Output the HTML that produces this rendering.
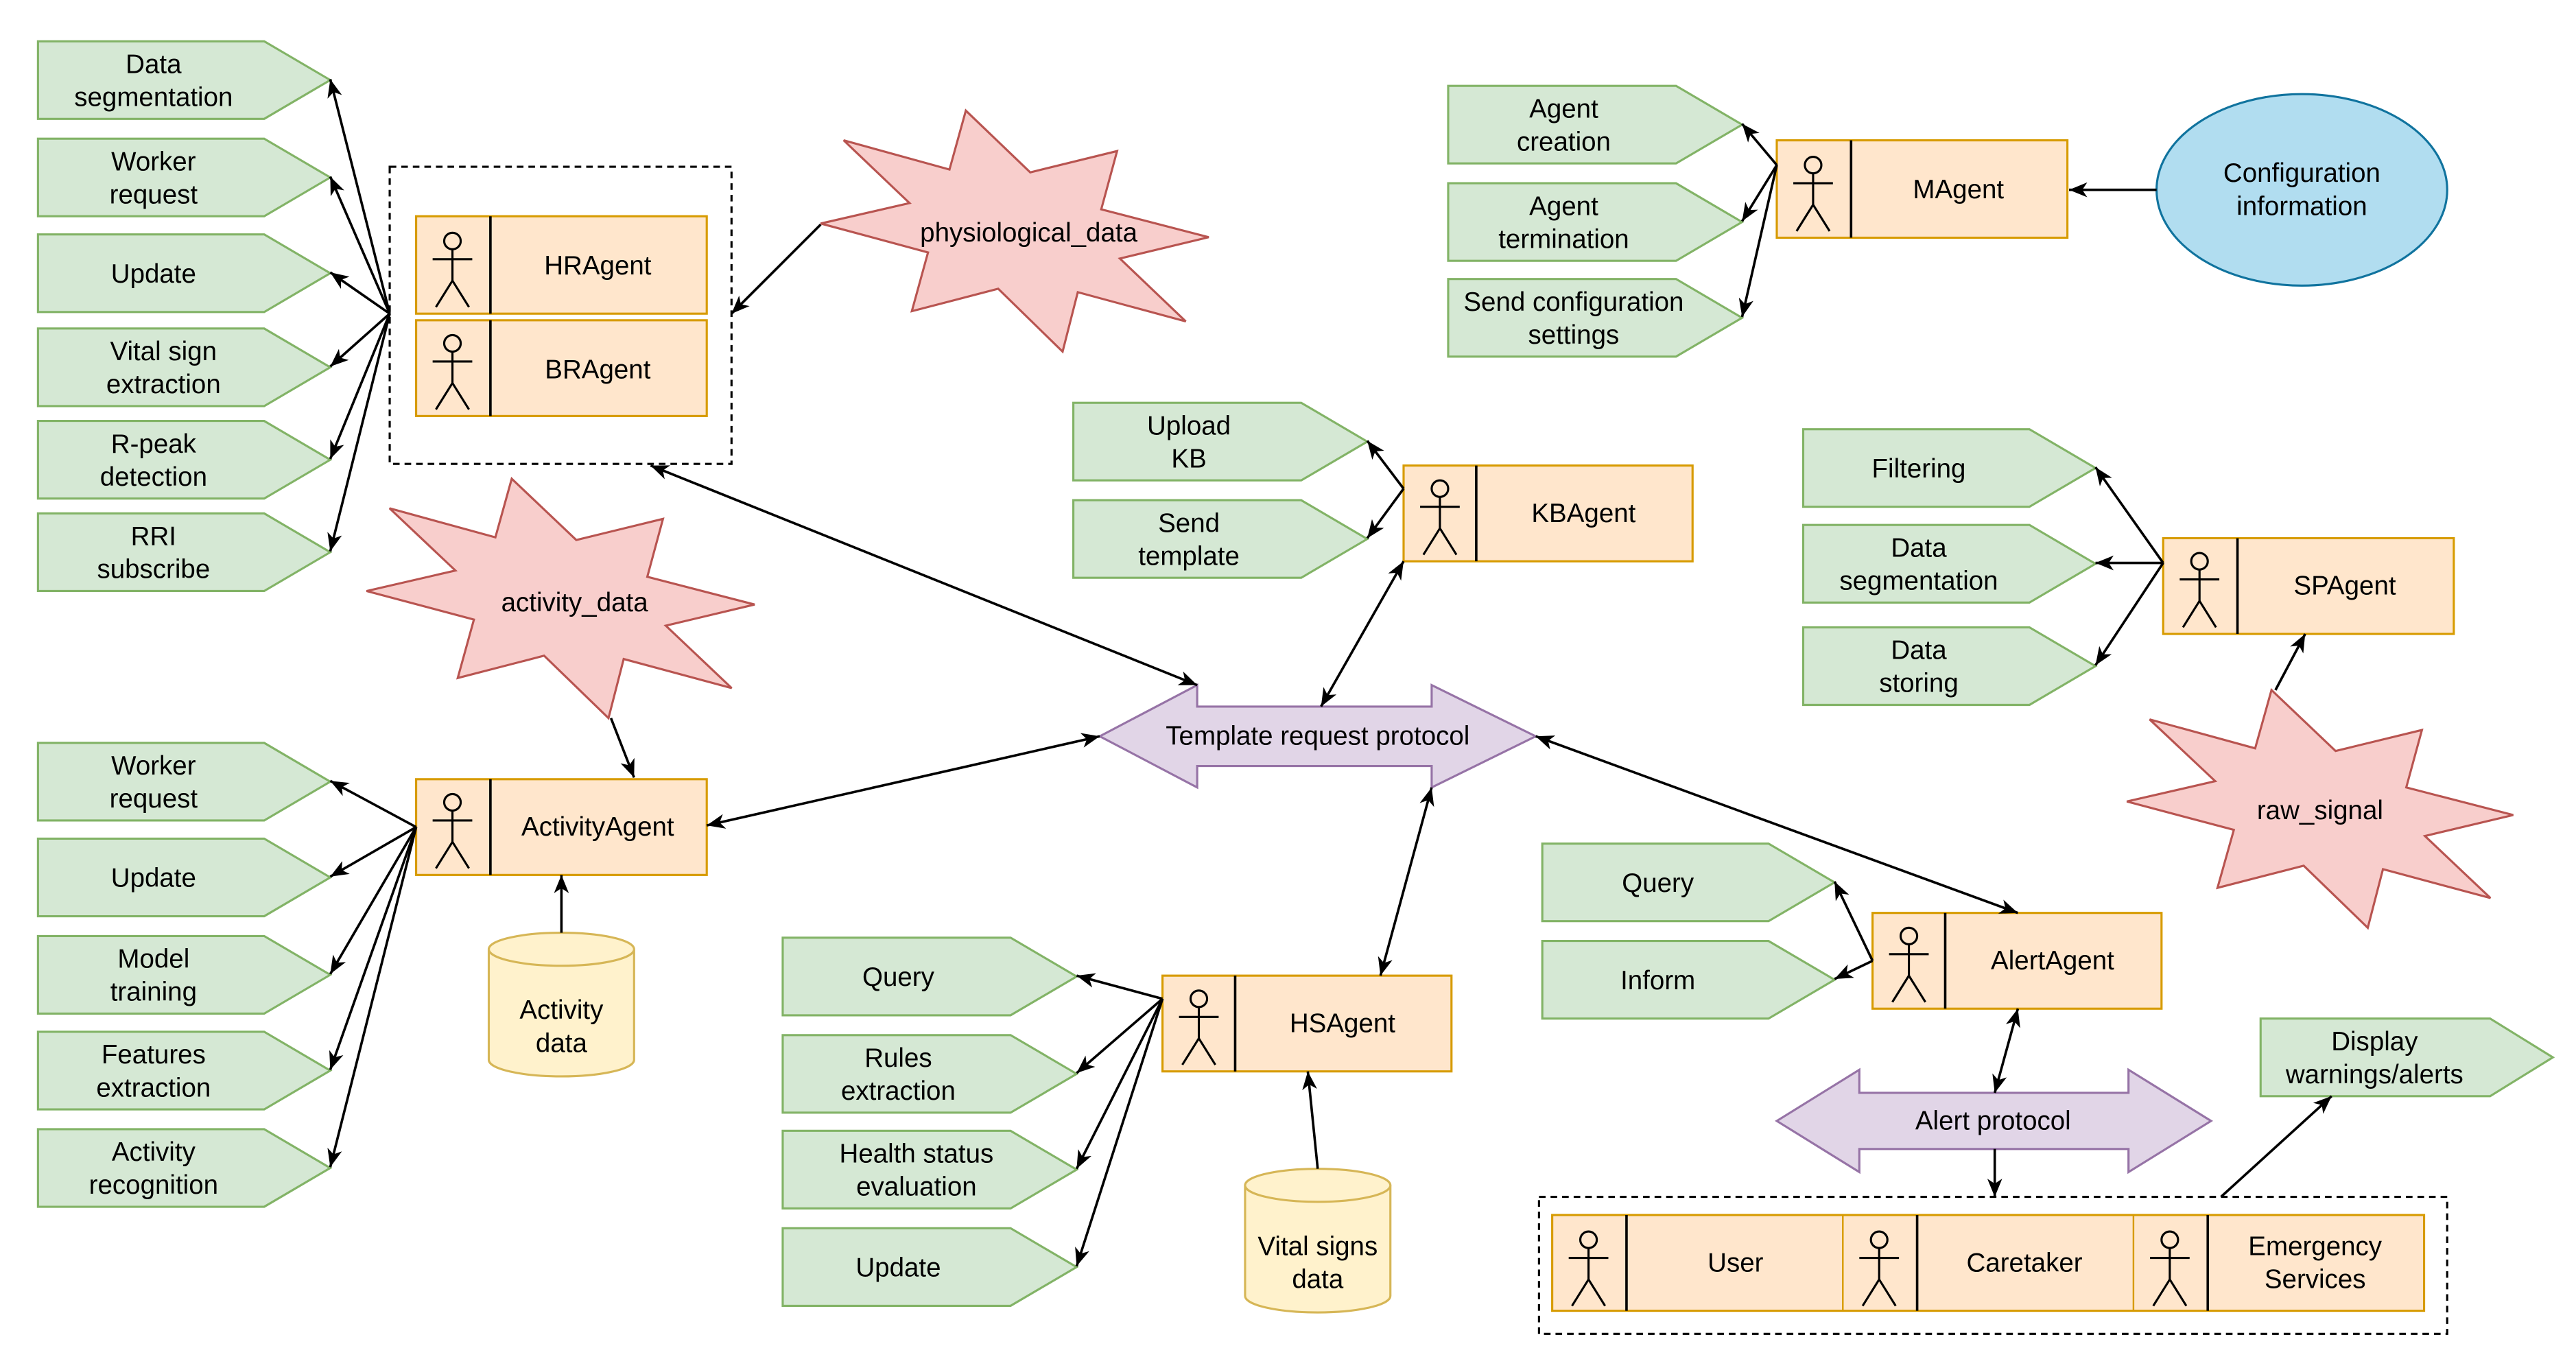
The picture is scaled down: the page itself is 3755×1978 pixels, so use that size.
<!DOCTYPE html>
<html><head><meta charset="utf-8">
<style>
html,body{margin:0;padding:0;background:#fff;}
svg{display:block;}
text{font-family:"Liberation Sans",Arial,sans-serif;font-size:16px;fill:#000;text-anchor:middle;dominant-baseline:central;}
.g{fill:#d5e8d4;stroke:#82b366;stroke-width:1.3;}
.o{fill:#ffe6cc;stroke:#d79b00;stroke-width:1.3;}
.r{fill:#f8cecc;stroke:#b85450;stroke-width:1.3;}
.p{fill:#e1d5e7;stroke:#9673a6;stroke-width:1.3;}
.y{fill:#fff2cc;stroke:#d6b656;stroke-width:1.3;}
.b{fill:#b1ddf0;stroke:#10739e;stroke-width:1.3;}
.l{stroke:#000;stroke-width:1.5;fill:none;}
.d{stroke:#000;stroke-width:1.3;fill:none;stroke-dasharray:4,3;}
.a{stroke:#000;stroke-width:1.3;fill:none;}
</style></head><body>
<svg width="3755" height="1978" viewBox="0 0 1560 822" preserveAspectRatio="none" xmlns="http://www.w3.org/2000/svg">
<defs>
<marker id="m" markerUnits="userSpaceOnUse" markerWidth="12" markerHeight="10" refX="11" refY="4.5" orient="auto-start-reverse" viewBox="0 0 12 9">
<path d="M0,0 L11,4.5 L0,9 L3,4.5 z" fill="#000"/>
</marker>
<g id="act">
<circle cx="22" cy="13" r="5" class="a" fill="#fff"/>
<line x1="22" y1="18" x2="22" y2="37" class="a"/>
<line x1="10" y1="24" x2="34" y2="24" class="a"/>
<line x1="22" y1="37" x2="12" y2="53" class="a"/>
<line x1="22" y1="37" x2="32" y2="53" class="a"/>
</g>
</defs>

<!-- Left top green group -->
<polygon class="g" points="23,25 160,25 200,48.5 160,72 23,72"/><text x="93" y="39">Data</text><text x="93" y="59">segmentation</text>
<polygon class="g" points="23,84 160,84 200,107.5 160,131 23,131"/><text x="93" y="98">Worker</text><text x="93" y="118">request</text>
<polygon class="g" points="23,142 160,142 200,165.5 160,189 23,189"/><text x="93" y="166">Update</text>
<polygon class="g" points="23,199 160,199 200,222.5 160,246 23,246"/><text x="99" y="213">Vital sign</text><text x="99" y="233">extraction</text>
<polygon class="g" points="23,255 160,255 200,278.5 160,302 23,302"/><text x="93" y="269">R-peak</text><text x="93" y="289">detection</text>
<polygon class="g" points="23,311 160,311 200,334.5 160,358 23,358"/><text x="93" y="325">RRI</text><text x="93" y="345">subscribe</text>

<rect class="d" x="236" y="101" width="207" height="180"/>
<rect class="o" x="252" y="131" width="176" height="59"/><line x1="297" y1="131" x2="297" y2="190" class="l"/><use href="#act" x="252" y="133"/><text x="362" y="161">HRAgent</text>
<rect class="o" x="252" y="194" width="176" height="58"/><line x1="297" y1="194" x2="297" y2="252" class="l"/><use href="#act" x="252" y="195"/><text x="362" y="224">BRAgent</text>

<line class="l" x1="236" y1="190" x2="200" y2="48" marker-end="url(#m)"/>
<line class="l" x1="236" y1="190" x2="200" y2="107" marker-end="url(#m)"/>
<line class="l" x1="236" y1="190" x2="200" y2="165" marker-end="url(#m)"/>
<line class="l" x1="236" y1="190" x2="200" y2="222" marker-end="url(#m)"/>
<line class="l" x1="236" y1="190" x2="200" y2="278" marker-end="url(#m)"/>
<line class="l" x1="236" y1="190" x2="200" y2="334" marker-end="url(#m)"/>

<!-- physiological star -->
<polygon class="r" points="497,135.4 550.8,123 510.9,85 575,102.7 584.9,67 623.9,104.4 676.5,91.5 666.9,126.8 732,143.7 678.2,156.6 718.1,194.7 652.7,177 643.5,213 604.5,174.9 552.2,188.5 562,152.9"/>
<text x="623" y="141">physiological_data</text>
<line class="l" x1="497" y1="136" x2="443" y2="190" marker-end="url(#m)"/>

<!-- activity star -->
<polygon class="r" points="222,358 275.8,345.6 235.9,307.9 300,325.5 309.9,290 349,327.1 401.5,314.3 392,349.4 457,366.2 403.2,379 443.1,416.8 377.7,399.2 368.5,435 329.5,397.2 277.2,410.7 287,375.3"/>
<text x="348" y="365">activity_data</text>
<line class="l" x1="370" y1="435" x2="384" y2="471" marker-end="url(#m)"/>

<!-- ActivityAgent -->
<rect class="o" x="252" y="472" width="176" height="58"/><line x1="297" y1="472" x2="297" y2="530" class="l"/><use href="#act" x="252" y="473"/><text x="362" y="501">ActivityAgent</text>
<polygon class="g" points="23,450 160,450 200,473.5 160,497 23,497"/><text x="93" y="464">Worker</text><text x="93" y="484">request</text>
<polygon class="g" points="23,508 160,508 200,531.5 160,555 23,555"/><text x="93" y="532">Update</text>
<polygon class="g" points="23,567 160,567 200,590.5 160,614 23,614"/><text x="93" y="581">Model</text><text x="93" y="601">training</text>
<polygon class="g" points="23,625 160,625 200,648.5 160,672 23,672"/><text x="93" y="639">Features</text><text x="93" y="659">extraction</text>
<polygon class="g" points="23,684 160,684 200,707.5 160,731 23,731"/><text x="93" y="698">Activity</text><text x="93" y="718">recognition</text>
<line class="l" x1="252" y1="501" x2="200" y2="473" marker-end="url(#m)"/>
<line class="l" x1="252" y1="501" x2="200" y2="531" marker-end="url(#m)"/>
<line class="l" x1="252" y1="501" x2="200" y2="590" marker-end="url(#m)"/>
<line class="l" x1="252" y1="501" x2="200" y2="648" marker-end="url(#m)"/>
<line class="l" x1="252" y1="501" x2="200" y2="707" marker-end="url(#m)"/>

<!-- Activity data cylinder -->
<path class="y" d="M296,575 A44,10 0 0 1 384,575 L384,642 A44,10 0 0 1 296,642 Z"/>
<path class="y" d="M296,575 A44,10 0 0 0 384,575" fill="none"/>
<text x="340" y="612">Activity</text><text x="340" y="632">data</text>
<line class="l" x1="340" y1="565" x2="340" y2="530" marker-end="url(#m)"/>

<!-- Template request protocol -->
<polygon class="p" points="666,446 725,415 725,428 867,428 867,415 930,446 867,477 867,464 725,464 725,477"/>
<text x="798" y="446">Template request protocol</text>

<!-- MAgent -->
<rect class="o" x="1076" y="85" width="176" height="59"/><line x1="1121" y1="85" x2="1121" y2="144" class="l"/><use href="#act" x="1076" y="87"/><text x="1186" y="115">MAgent</text>
<polygon class="g" points="877,52 1015,52 1055,75.5 1015,99 877,99"/><text x="947" y="66">Agent</text><text x="947" y="86">creation</text>
<polygon class="g" points="877,111 1015,111 1055,134.5 1015,158 877,158"/><text x="947" y="125">Agent</text><text x="947" y="145">termination</text>
<polygon class="g" points="877,169 1015,169 1055,192.5 1015,216 877,216"/><text x="953" y="183">Send configuration</text><text x="953" y="203">settings</text>
<line class="l" x1="1076" y1="100" x2="1055" y2="75" marker-end="url(#m)"/>
<line class="l" x1="1076" y1="100" x2="1055" y2="134" marker-end="url(#m)"/>
<line class="l" x1="1076" y1="100" x2="1055" y2="192" marker-end="url(#m)"/>
<ellipse class="b" cx="1394" cy="115" rx="88" ry="58"/>
<text x="1394" y="105">Configuration</text><text x="1394" y="125">information</text>
<line class="l" x1="1306" y1="115" x2="1253" y2="115" marker-end="url(#m)"/>

<!-- KBAgent -->
<rect class="o" x="850" y="282" width="175" height="58"/><line x1="894" y1="282" x2="894" y2="340" class="l"/><use href="#act" x="850" y="283"/><text x="959" y="311">KBAgent</text>
<polygon class="g" points="650,244 788,244 828,267.5 788,291 650,291"/><text x="720" y="258">Upload</text><text x="720" y="278">KB</text>
<polygon class="g" points="650,303 788,303 828,326.5 788,350 650,350"/><text x="720" y="317">Send</text><text x="720" y="337">template</text>
<line class="l" x1="850" y1="296" x2="828" y2="267" marker-end="url(#m)"/>
<line class="l" x1="850" y1="296" x2="828" y2="326" marker-end="url(#m)"/>

<!-- SPAgent -->
<rect class="o" x="1310" y="326" width="176" height="58"/><line x1="1355" y1="326" x2="1355" y2="384" class="l"/><use href="#act" x="1310" y="327"/><text x="1420" y="355">SPAgent</text>
<polygon class="g" points="1092,260 1229,260 1269,283.5 1229,307 1092,307"/><text x="1162" y="284">Filtering</text>
<polygon class="g" points="1092,318 1229,318 1269,341.5 1229,365 1092,365"/><text x="1162" y="332">Data</text><text x="1162" y="352">segmentation</text>
<polygon class="g" points="1092,380 1229,380 1269,403.5 1229,427 1092,427"/><text x="1162" y="394">Data</text><text x="1162" y="414">storing</text>
<line class="l" x1="1310" y1="341" x2="1269" y2="283" marker-end="url(#m)"/>
<line class="l" x1="1310" y1="341" x2="1269" y2="341" marker-end="url(#m)"/>
<line class="l" x1="1310" y1="341" x2="1269" y2="403" marker-end="url(#m)"/>
<polygon class="r" points="1288,485.5 1341.5,473.2 1301.8,435.8 1365.7,453.3 1375.6,418 1414.4,454.9 1466.7,442.2 1457.2,477 1522,493.7 1468.5,506.4 1508.2,544 1443.1,526.5 1433.9,562 1395.1,524.4 1342.9,537.8 1352.8,502.7"/>
<text x="1405" y="491">raw_signal</text>
<line class="l" x1="1378" y1="418" x2="1396" y2="384" marker-end="url(#m)"/>

<!-- HSAgent -->
<rect class="o" x="704" y="591" width="175" height="58"/><line x1="748" y1="591" x2="748" y2="649" class="l"/><use href="#act" x="704" y="592"/><text x="813" y="620">HSAgent</text>
<polygon class="g" points="474,568 612,568 652,591.5 612,615 474,615"/><text x="544" y="592">Query</text>
<polygon class="g" points="474,627 612,627 652,650.5 612,674 474,674"/><text x="544" y="641">Rules</text><text x="544" y="661">extraction</text>
<polygon class="g" points="474,685 612,685 652,708.5 612,732 474,732"/><text x="555" y="699">Health status</text><text x="555" y="719">evaluation</text>
<polygon class="g" points="474,744 612,744 652,767.5 612,791 474,791"/><text x="544" y="768">Update</text>
<line class="l" x1="704" y1="605" x2="652" y2="591" marker-end="url(#m)"/>
<line class="l" x1="704" y1="605" x2="652" y2="650" marker-end="url(#m)"/>
<line class="l" x1="704" y1="605" x2="652" y2="708" marker-end="url(#m)"/>
<line class="l" x1="704" y1="605" x2="652" y2="767" marker-end="url(#m)"/>
<path class="y" d="M754,718 A44,10 0 0 1 842,718 L842,785 A44,10 0 0 1 754,785 Z"/>
<path class="y" d="M754,718 A44,10 0 0 0 842,718" fill="none"/>
<text x="798" y="755">Vital signs</text><text x="798" y="775">data</text>
<line class="l" x1="798" y1="708" x2="792" y2="649" marker-end="url(#m)"/>

<!-- AlertAgent -->
<rect class="o" x="1134" y="553" width="175" height="58"/><line x1="1178" y1="553" x2="1178" y2="611" class="l"/><use href="#act" x="1134" y="554"/><text x="1243" y="582">AlertAgent</text>
<polygon class="g" points="934,511 1071,511 1111,534.5 1071,558 934,558"/><text x="1004" y="535">Query</text>
<polygon class="g" points="934,570 1071,570 1111,593.5 1071,617 934,617"/><text x="1004" y="594">Inform</text>
<line class="l" x1="1134" y1="582" x2="1111" y2="534" marker-end="url(#m)"/>
<line class="l" x1="1134" y1="582" x2="1111" y2="593" marker-end="url(#m)"/>

<polygon class="p" points="1076,679 1126,648 1126,662 1289,662 1289,648 1339,679 1289,710 1289,696 1126,696 1126,710"/>
<text x="1207" y="679">Alert protocol</text>
<line class="l" x1="1222" y1="611" x2="1208" y2="662" marker-start="url(#m)" marker-end="url(#m)"/>
<line class="l" x1="1208" y1="696" x2="1208" y2="725" marker-end="url(#m)"/>

<rect class="d" x="932" y="725" width="550" height="83"/>
<rect class="o" x="940" y="736" width="528" height="58"/>
<line x1="1116" y1="736" x2="1116" y2="794" stroke="#d79b00" stroke-width="1"/>
<line x1="1292" y1="736" x2="1292" y2="794" stroke="#d79b00" stroke-width="1"/>
<line x1="985" y1="736" x2="985" y2="794" class="l"/><use href="#act" x="940" y="738"/><text x="1051" y="765">User</text>
<line x1="1161" y1="736" x2="1161" y2="794" class="l"/><use href="#act" x="1116" y="738"/><text x="1226" y="765">Caretaker</text>
<line x1="1337" y1="736" x2="1337" y2="794" class="l"/><use href="#act" x="1292" y="738"/><text x="1402" y="755">Emergency</text><text x="1402" y="775">Services</text>

<polygon class="g" points="1369,617 1508,617 1546,640.5 1508,664 1369,664"/><text x="1438" y="631">Display</text><text x="1438" y="651">warnings/alerts</text>
<line class="l" x1="1345" y1="725" x2="1412" y2="664" marker-end="url(#m)"/>

<!-- protocol connections -->
<line class="l" x1="394" y1="282" x2="725" y2="415" marker-start="url(#m)" marker-end="url(#m)"/>
<line class="l" x1="850" y1="340" x2="800" y2="428" marker-start="url(#m)" marker-end="url(#m)"/>
<line class="l" x1="428" y1="500" x2="666" y2="446" marker-start="url(#m)" marker-end="url(#m)"/>
<line class="l" x1="867" y1="477" x2="836" y2="591" marker-start="url(#m)" marker-end="url(#m)"/>
<line class="l" x1="930" y1="446" x2="1222" y2="553" marker-start="url(#m)" marker-end="url(#m)"/>
</svg>
</body></html>
